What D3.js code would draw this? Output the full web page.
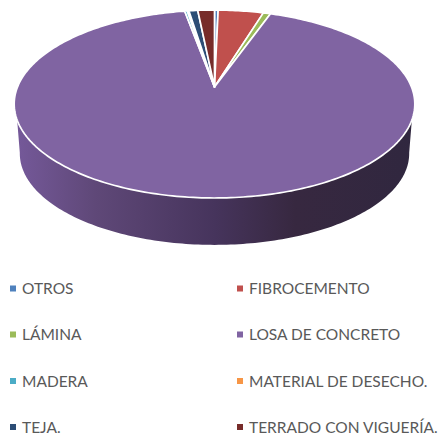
<!DOCTYPE html>
<html><head><meta charset="utf-8">
<script src="https://cdn.jsdelivr.net/npm/d3@7"></script>
<style>html,body{margin:0;padding:0;background:#fff}svg{display:block}</style>
</head><body><div id="c"></div>
<script>
const categories = ["OTROS","FIBROCEMENTO","LÁMINA","LOSA DE CONCRETO","MADERA","MATERIAL DE DESECHO.","TEJA.","TERRADO CON VIGUERÍA."];
const values = [0.35,4.35,0.7,91.75,0.25,0.15,0.85,1.6];
const colors = ["#4f81bd","#c0504d","#9bbb59","#8064a2","#4bacc6","#f79646","#2c4d75","#772c2a"];
const W=439,H=434;
const svg=d3.select("#c").append("svg").attr("width",W).attr("height",H);
const k=0.181, a=197, b=90.9;
const project=(t,r,cx,cy,s)=>{
  const x=Math.sin(t)*r, z=-Math.cos(t)*r, w=1-k*z;
  return [cx+s*a*x/w, cy+s*b*z/w];
};
const top_=(t,r=1)=>project(t,r,214.5,87,1);
const bot=(t,r=1)=>project(t,r,214.5,137,0.972);
const defs=svg.append("defs");
const g=defs.append("linearGradient").attr("id","side").attr("gradientUnits","userSpaceOnUse")
  .attr("x1",15).attr("x2",415).attr("y1",0).attr("y2",0);
[[0,"#75599a"],[0.2,"#5f4878"],[0.5,"#46345c"],[0.7,"#372840"],[1,"#30273f"]]
  .forEach(d=>g.append("stop").attr("offset",d[0]).attr("stop-color",d[1]));
const line=d3.line();
const deg=Math.PI/180;
const topArc=d3.range(110,251,1).map(d=>top_(d*deg));
const botArc=d3.range(260,99,-1).map(d=>bot(d*deg));
svg.append("path").attr("d",line(topArc.concat(botArc))+"Z").attr("fill","url(#side)");
const pie=d3.pie().sort(null).value(d=>d)(values);
pie.forEach((p,i)=>{
  const n=Math.max(2,Math.ceil((p.endAngle-p.startAngle)/deg));
  const pts=[top_(0,0)].concat(d3.range(n+1).map(j=>top_(p.startAngle+(p.endAngle-p.startAngle)*j/n)));
  svg.append("path").attr("d",line(pts)+"Z").attr("fill",colors[i])
    .attr("stroke","#fff").attr("stroke-width",1.7).attr("stroke-linejoin","round");
});
const rows=[288.5,334.5,381,427], colsMark=[10,237], colsText=[22,249];
categories.forEach((c,i)=>{
  const col=i%2,row=Math.floor(i/2);
  svg.append("rect").attr("x",colsMark[col]).attr("y",rows[row]-3).attr("width",6).attr("height",6).attr("fill",colors[i]);
  svg.append("text").attr("x",colsText[col]).attr("y",rows[row]+5.5).text(c)
    .attr("font-family","Lato, 'Open Sans', sans-serif").attr("font-size",15.5).attr("fill","#595959");
});
</script></body></html>
